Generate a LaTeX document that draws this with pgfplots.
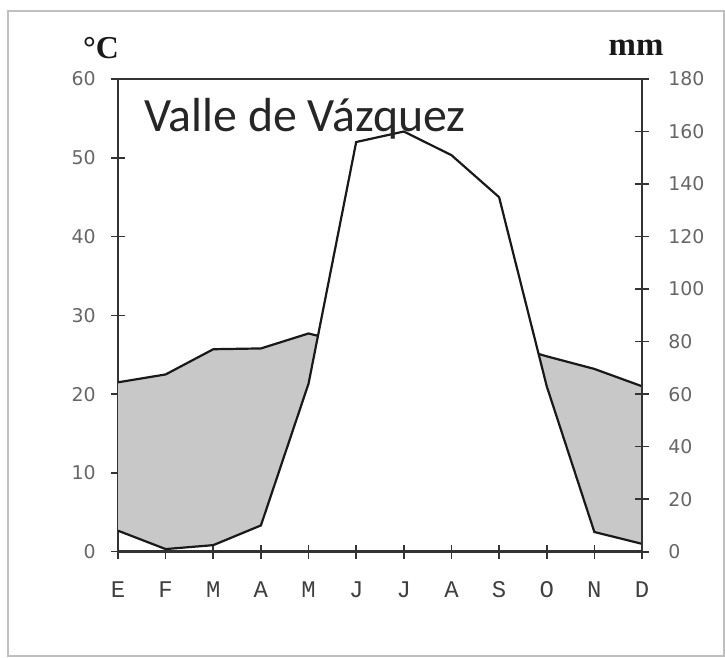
\documentclass[border=0pt]{standalone}
\usepackage{fontspec}
\setmainfont{DejaVu Sans}
\newfontfamily\monof{Liberation Mono}
\newfontfamily\serf{Liberation Serif}
\newfontfamily\titf{Carlito}
\usepackage{pgfplots}
\usepackage{pgfplotstable}
\pgfplotsset{compat=1.18}
\usepgfplotslibrary{fillbetween}
\definecolor{dryfill}{HTML}{C8C8C8}

% precipitation (mm), months E..D = 0..11
\pgfplotstableread{
m mm
0 8
1 1
2 2.5
3 10
4 64
5 156
6 160
7 151
8 135
9 63
10 7.5
11 3
}\prec
% temperature (C), visible part (dry season, first half)
\pgfplotstableread{
m t
0 21.5
1 22.5
2 25.7
3 25.8
4 27.7
4.2 27.4
}\tempA
% temperature (C), visible part (dry season, end of year)
\pgfplotstableread{
m t
8.83 25.1
9 24.8
10 23.2
11 21.0
}\tempB

\begin{document}
\begin{tikzpicture}
\path (0bp,0bp) rectangle (362.5bp,329bp);
\draw[black!25, line width=1bp] (4bp,1bp) rectangle (362bp,323.5bp);

\begin{axis}[
  at={(59bp,53.15bp)}, anchor=south west,
  scale only axis, width=262bp, height=236.35bp,
  xmin=0, xmax=11, ymin=0, ymax=60,
  xtick={0,...,11},
  xticklabels={E,F,M,A,M,J,J,A,S,O,N,D},
  ytick={0,10,...,60},
  xtick pos=bottom, ytick pos=left,
  tick align=center, major tick length=7bp,
  tick style={black!80, line width=0.8bp},
  axis line style={black!80, line width=1.3bp},
  /pgf/number format/assume math mode=true,
  xticklabel style={font=\monof\fontsize{12}{12}\selectfont, text=black!75, anchor=center, yshift=-15.5bp},
  yticklabel style={font=\fontsize{9.5}{10}\selectfont, text=black!60, anchor=east, inner sep=0pt, xshift=-7.5bp},
]
\addplot[name path=P, draw=none, forget plot] table[x=m, y expr=\thisrow{mm}/3] {\prec};
\addplot[name path=TA, draw=none, forget plot] table[x=m, y=t] {\tempA};
\addplot[name path=TB, draw=none, forget plot] table[x=m, y=t] {\tempB};
\addplot[fill=dryfill, draw=none, forget plot] fill between[of=TA and P, soft clip={domain=0:4.2}];
\addplot[fill=dryfill, draw=none, forget plot] fill between[of=TB and P, soft clip={domain=8.83:11}];
\addplot[black!90, line width=1.1bp] table[x=m, y expr=\thisrow{mm}/3] {\prec};
\addplot[black!90, line width=1.1bp] table[x=m, y=t] {\tempA};
\addplot[black!90, line width=1.1bp] table[x=m, y=t] {\tempB};
\end{axis}

\begin{axis}[
  at={(59bp,53.15bp)}, anchor=south west,
  scale only axis, width=262bp, height=236.35bp,
  xmin=0, xmax=11, ymin=0, ymax=180,
  axis x line=none, axis y line*=right,
  ytick={0,20,...,180},
  tick align=center, major tick length=7bp,
  tick style={black!80, line width=0.8bp},
  axis line style={black!80, line width=1.3bp},
  /pgf/number format/assume math mode=true,
  yticklabel style={font=\fontsize{9.5}{10}\selectfont, text=black!60, anchor=west, inner sep=0pt, xshift=9.5bp},
]
\addplot[draw=none] coordinates {(0,0)};
\end{axis}

\node[font=\serf\bfseries\fontsize{16}{16}\selectfont, text=black!90] at (50.5bp,305bp) {°C};
\node[font=\serf\bfseries\fontsize{16.5}{16.5}\selectfont, text=black!90] at (318bp,305bp) {mm};
\node[font=\titf\fontsize{24}{24}\selectfont, text=black!85, anchor=base west, inner sep=0pt] at (72bp,263.15bp) {Valle de Vázquez};
\end{tikzpicture}
\end{document}
